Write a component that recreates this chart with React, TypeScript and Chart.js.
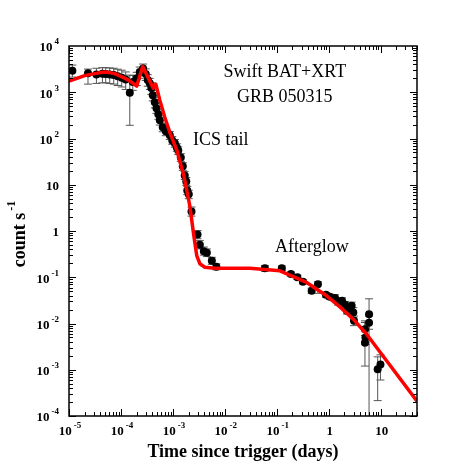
import { useEffect, useRef } from "react";
import { Chart, registerables } from "chart.js";
Chart.register(...registerables);

// Observed count rates (days, count/s) with error ranges
const obsTime = [
  1.16e-5, 2.32e-5, 3.37e-5, 4.4e-5, 5.09e-5, 6.08e-5, 7.26e-5, 8.66e-5, 1.035e-4, 1.235e-4,
  1.48e-4, 1.69e-4, 2.01e-4, 2.3e-4, 2.67e-4, 3.0e-4, 3.28e-4, 3.59e-4, 3.84e-4, 4.1e-4,
  4.48e-4, 4.83e-4, 5.24e-4, 5.6e-4, 6.38e-4, 7.29e-4, 8.71e-4, 9.73e-4, 1.09e-3, 1.19e-3,
  1.27e-3, 1.42e-3, 1.55e-3, 1.69e-3, 1.81e-3, 1.89e-3, 2.02e-3, 2.28e-3, 2.98e-3, 3.3e-3,
  3.94e-3, 4.5e-3, 5.62e-3, 6.86e-3,
  0.059, 0.125, 0.187, 0.249, 0.318, 0.469, 0.619, 0.883, 1.05, 1.32,
  1.52, 1.8, 2.05, 2.24, 2.76, 2.97, 3.06, 4.98, 5.09, 4.98,
  5.97, 5.97, 8.75, 9.9,
];
const obsRate = [
  2910, 2560, 2430, 2500, 2470, 2410, 2350, 2230, 2070, 1880,
  980, 1660, 2020, 2730, 3280, 2470, 1830, 1570, 1230, 865,
  610, 452, 335, 248, 175, 143, 117, 91, 79, 64,
  55, 39, 25, 15.9, 11.8, 7.5, 6.2, 2.64, 0.835, 0.507,
  0.366, 0.34, 0.228, 0.169,
  0.157, 0.157, 0.117, 0.1, 0.08, 0.051, 0.071, 0.0417, 0.0378, 0.0354,
  0.0294, 0.0309, 0.0253, 0.0188, 0.0241, 0.0172, 0.0114, 0.00752, 0.00499, 0.00385,
  0.0104, 0.0159, 0.00102, 0.0013,
];
const rateLow = [
  2130, 1500, 1550, 1600, 1600, 1550, 1500, 1400, 1300, 1150,
  193, 1100, 1400, 2000, 2500, 1800, 1350, 1150, 900, 650,
  460, 350, 260, 195, 140, 115, 95, 75, 65, 53,
  45, 32, 20.5, 13, 9.7, 6.1, 5.0, 2.1, 0.68, 0.41,
  0.3, 0.28, 0.19, 0.145,
  0.135, 0.14, 0.105, 0.09, 0.072, 0.045, 0.045, 0.037, 0.033, 0.03,
  0.025, 0.026, 0.021, 0.016, 0.02, 0.0135, 0.009, 0.0055, 0.0035, 0.0012,
  0.0075, 0.00008, 0.000215, 0.0006,
];
const rateHigh = [
  3870, 3170, 3300, 3400, 3400, 3350, 3300, 3150, 3000, 2750,
  2350, 2300, 2700, 3500, 4070, 3200, 2400, 2000, 1600, 1100,
  780, 570, 420, 310, 215, 175, 142, 110, 95, 77,
  66, 47, 30, 19.5, 14.3, 9.2, 7.6, 3.3, 1.02, 0.62,
  0.45, 0.41, 0.27, 0.195,
  0.18, 0.175, 0.13, 0.111, 0.089, 0.058, 0.08, 0.047, 0.043, 0.042,
  0.034, 0.036, 0.03, 0.022, 0.029, 0.022, 0.0145, 0.0105, 0.007, 0.0114,
  0.0145, 0.0342, 0.0019, 0.0021,
];

// Model curve (red)
const modelTime = [
  1e-5, 2.0e-5, 3.91e-5, 5.33e-5, 7.6e-5, 1.18e-4, 1.545e-4, 2.01e-4, 2.63e-4, 3.59e-4,
  4.19e-4, 4.69e-4, 5.6e-4, 6.98e-4, 8.71e-4, 1.19e-3, 1.62e-3, 2.11e-3, 2.53e-3, 2.88e-3,
  3.3e-3, 4.12e-3, 6.4e-3, 0.0305, 0.115, 0.375, 0.912, 1.64, 2.97, 5.37,
  13.1, 50,
];
const modelRate = [
  1740, 2290, 2660, 2730, 2530, 2020, 1700, 1357, 3590, 1740,
  1227, 1500, 674, 288, 136, 55.5, 15.9, 3.56, 0.79, 0.292,
  0.196, 0.165, 0.157, 0.157, 0.138, 0.0771, 0.0397, 0.0229, 0.0124, 0.00586,
  0.00155, 0.00021,
];

const xTickExps = [-5, -4, -3, -2, -1, 0, 1];
const xTickLabels = [["10", "-5"], ["10", "-4"], ["10", "-3"], ["10", "-2"], ["10", "-1"], ["1", ""], ["10", ""]];
const yTickExps = [-4, -3, -2, -1, 0, 1, 2, 3, 4];
const yTickLabels = [["10", "-4"], ["10", "-3"], ["10", "-2"], ["10", "-1"], ["1", ""], ["10", ""], ["10", "2"], ["10", "3"], ["10", "4"]];
const xTitle = "Time since trigger (days)";
const yTitle = ["count s", "-1"];
const notes = [
  { text: "Swift BAT+XRT", x: 0.143, y: 2730, align: "center" },
  { text: "GRB 050315", x: 0.143, y: 780, align: "center" },
  { text: "ICS tail", x: 2.45e-3, y: 91, align: "left" },
  { text: "Afterglow", x: 0.474, y: 0.436, align: "center" },
];

const FONT = '"Liberation Serif", "Times New Roman", serif';

function drawSupText(ctx: CanvasRenderingContext2D, base: string, sup: string, x: number, y: number, align: string, size: number, supSize: number, rise: number) {
  ctx.font = `bold ${size}px ${FONT}`;
  const wb = ctx.measureText(base).width;
  ctx.font = `bold ${supSize}px ${FONT}`;
  const gap = sup ? 2 : 0;
  const ws = sup ? ctx.measureText(sup).width : 0;
  const total = wb + gap + ws;
  let x0 = x;
  if (align === "center") x0 = x - total / 2;
  else if (align === "right") x0 = x - total;
  ctx.textAlign = "left";
  ctx.textBaseline = "middle";
  ctx.font = `bold ${size}px ${FONT}`;
  ctx.fillText(base, x0, y);
  if (sup) {
    ctx.font = `bold ${supSize}px ${FONT}`;
    ctx.fillText(sup, x0 + wb + gap, y - rise);
  }
}

const errorBarPlugin = {
  id: "errorBars",
  beforeDatasetsDraw(chart: any) {
    const { ctx, chartArea, scales } = chart;
    const xs = scales.x, ys = scales.y;
    ctx.save();
    ctx.beginPath();
    ctx.rect(chartArea.left, chartArea.top, chartArea.right - chartArea.left, chartArea.bottom - chartArea.top);
    ctx.clip();
    ctx.strokeStyle = "#555555";
    ctx.lineWidth = 1;
    for (let i = 0; i < obsTime.length; i++) {
      const px = xs.getPixelForValue(obsTime[i]);
      const yl = ys.getPixelForValue(rateLow[i]);
      const yh = ys.getPixelForValue(rateHigh[i]);
      ctx.beginPath();
      ctx.moveTo(px, yl);
      ctx.lineTo(px, yh);
      ctx.moveTo(px - 4, yl);
      ctx.lineTo(px + 4, yl);
      ctx.moveTo(px - 4, yh);
      ctx.lineTo(px + 4, yh);
      ctx.stroke();
    }
    ctx.restore();
  },
};

const framePlugin = {
  id: "frameAxes",
  afterDraw(chart: any) {
    const { ctx, chartArea, scales } = chart;
    const xs = scales.x, ys = scales.y;
    const { left, right, top, bottom } = chartArea;
    ctx.save();
    ctx.strokeStyle = "#000";
    ctx.lineWidth = 1.5;
    ctx.strokeRect(left, top, right - left, bottom - top);
    ctx.lineWidth = 1;
    for (let k = -5; k <= 1; k++) {
      for (let m = 1; m <= 9; m++) {
        const v = m * Math.pow(10, k);
        if (v < 1e-5 || v > 50) continue;
        const px = Math.round(xs.getPixelForValue(v)) + 0.5;
        const len = m === 1 ? 7 : 4;
        ctx.beginPath();
        ctx.moveTo(px, bottom);
        ctx.lineTo(px, bottom - len);
        ctx.moveTo(px, top);
        ctx.lineTo(px, top + len);
        ctx.stroke();
      }
    }
    for (let k = -4; k <= 3; k++) {
      for (let m = 1; m <= 9; m++) {
        const v = m * Math.pow(10, k);
        const py = Math.round(ys.getPixelForValue(v)) + 0.5;
        const len = m === 1 ? 7 : 4;
        ctx.beginPath();
        ctx.moveTo(left, py);
        ctx.lineTo(left + len, py);
        ctx.moveTo(right, py);
        ctx.lineTo(right - len, py);
        ctx.stroke();
      }
    }
    ctx.fillStyle = "#000";
    xTickExps.forEach((e, i) => {
      const px = xs.getPixelForValue(Math.pow(10, e));
      const [b, s] = xTickLabels[i];
      drawSupText(ctx, b, s, px + 1, bottom + 16, "center", 13, 9, 6);
    });
    yTickExps.forEach((e, i) => {
      const py = ys.getPixelForValue(Math.pow(10, e));
      const [b, s] = yTickLabels[i];
      drawSupText(ctx, b, s, left - 10, py + 2, "right", 13, 9, 6);
    });
    ctx.font = `bold 18px ${FONT}`;
    ctx.textAlign = "center";
    ctx.textBaseline = "middle";
    ctx.fillText(xTitle, (left + right) / 2, 452);
    ctx.save();
    ctx.translate(20, (top + bottom) / 2 + 3);
    ctx.rotate(-Math.PI / 2);
    drawSupText(ctx, yTitle[0], yTitle[1], 0, 0, "center", 18, 12, 8);
    ctx.restore();
    ctx.font = `18px ${FONT}`;
    ctx.textBaseline = "middle";
    notes.forEach((n) => {
      ctx.textAlign = n.align as CanvasTextAlign;
      ctx.fillText(n.text, xs.getPixelForValue(n.x), ys.getPixelForValue(n.y));
    });
    ctx.restore();
  },
};

export default function App() {
  const ref = useRef<HTMLCanvasElement | null>(null);
  useEffect(() => {
    if (!ref.current) return;
    const chart = new Chart(ref.current, {
      type: "scatter",
      data: {
        datasets: [
          {
            type: "line",
            data: modelTime.map((t, i) => ({ x: t, y: modelRate[i] })),
            borderColor: "#ff0000",
            borderWidth: 3.5,
            pointRadius: 0,
            tension: 0,
            fill: false,
            borderJoinStyle: "round",
            order: 0,
          } as any,
          {
            data: obsTime.map((t, i) => ({ x: t, y: obsRate[i] })),
            backgroundColor: "#000",
            borderColor: "#000",
            pointRadius: 4,
            borderWidth: 0,
            order: 1,
          },
        ],
      },
      options: {
        responsive: false,
        animation: false,
        devicePixelRatio: 1,
        layout: { padding: { left: 69, right: 46, top: 46, bottom: 47 } },
        plugins: { legend: { display: false }, tooltip: { enabled: false } },
        scales: {
          x: { type: "logarithmic", min: 1e-5, max: 50, display: false },
          y: { type: "logarithmic", min: 1e-4, max: 1e4, display: false },
        },
      },
      plugins: [errorBarPlugin, framePlugin],
    });
    return () => chart.destroy();
  }, []);
  return (
    <canvas
      ref={ref}
      width={463}
      height={463}
      style={{ position: "absolute", left: 0, top: 0, display: "block", background: "#fff" }}
    />
  );
}
